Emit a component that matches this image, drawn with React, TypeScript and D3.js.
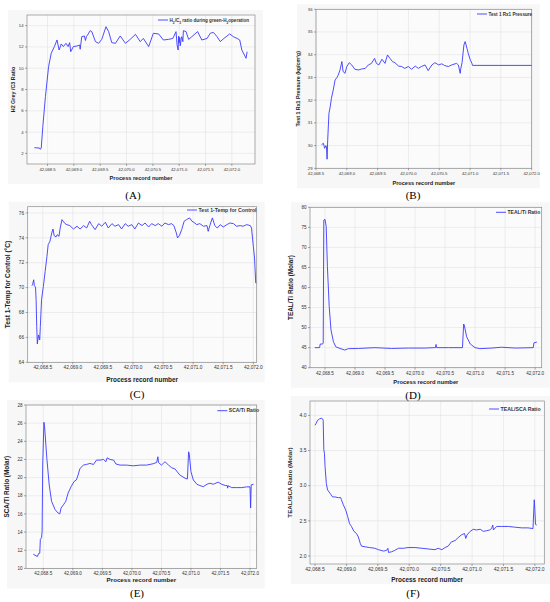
import React from 'react';
import * as d3 from 'd3';

type Pt = [number, number];

// Shared x ticks (process record number)
const X_TICKS = [42068.5, 42069.0, 42069.5, 42070.0, 42070.5, 42071.0, 42071.5, 42072.0];

// (A) H2/C3 ratio
const h2c3Ratio: Pt[] = [
  [42068.25, 2.53], [42068.35, 2.5], [42068.36, 2.38], [42068.38, 2.47], [42068.41, 4.51], [42068.46, 7.33],
  [42068.52, 10.15], [42068.57, 11.4], [42068.63, 12.03], [42068.68, 12.65], [42068.72, 11.71], [42068.76, 12.28],
  [42068.8, 12.03], [42068.85, 12.34], [42068.89, 12.03], [42068.92, 12.4], [42068.94, 11.55], [42068.99, 12.03],
  [42069.06, 12.09], [42069.11, 12.18], [42069.12, 11.78], [42069.15, 12.96], [42069.2, 13.03], [42069.22, 12.6],
  [42069.24, 13.0], [42069.26, 13.12], [42069.31, 13.53], [42069.34, 13.44], [42069.41, 12.5], [42069.47, 12.34],
  [42069.53, 12.71], [42069.61, 13.9], [42069.66, 13.44], [42069.72, 12.4], [42069.79, 12.34], [42069.88, 13.03],
  [42069.98, 12.34], [42070.07, 12.71], [42070.17, 13.18], [42070.26, 12.5], [42070.32, 12.8], [42070.42, 12.03],
  [42070.51, 13.28], [42070.61, 13.22], [42070.7, 12.65], [42070.8, 12.71], [42070.88, 12.8], [42070.94, 13.44],
  [42070.96, 12.2], [42070.98, 11.71], [42070.99, 13.0], [42071.0, 12.4], [42071.01, 12.9], [42071.02, 12.1],
  [42071.04, 12.8], [42071.05, 12.96], [42071.07, 12.5], [42071.08, 13.53], [42071.13, 13.44], [42071.18, 12.71],
  [42071.24, 12.96], [42071.35, 13.44], [42071.43, 12.65], [42071.53, 12.8], [42071.59, 13.28], [42071.65, 13.37],
  [42071.72, 12.96], [42071.78, 12.5], [42071.85, 12.8], [42071.96, 13.22], [42072.03, 12.96], [42072.1, 12.8],
  [42072.15, 12.65], [42072.19, 11.71], [42072.27, 10.93], [42072.29, 11.55],
];

// (B) Rx1 pressure
const rx1Pressure: Pt[] = [
  [42068.59, 30.04], [42068.62, 30.1], [42068.64, 29.88], [42068.66, 30.0], [42068.67, 29.95], [42068.68, 29.4],
  [42068.69, 30.25], [42068.71, 31.42], [42068.73, 31.7], [42068.75, 32.08], [42068.78, 32.45], [42068.81, 32.89],
  [42068.84, 33.0], [42068.86, 33.1], [42068.89, 33.33], [42068.92, 33.7], [42068.94, 33.26], [42068.97, 33.18],
  [42069.0, 33.48], [42069.04, 33.65], [42069.08, 33.55], [42069.13, 33.36], [42069.19, 33.33], [42069.24, 33.37],
  [42069.3, 33.4], [42069.35, 33.55], [42069.4, 33.62], [42069.45, 33.84], [42069.48, 33.62], [42069.52, 33.55],
  [42069.57, 33.8], [42069.62, 33.62], [42069.66, 33.99], [42069.7, 33.84], [42069.74, 33.7], [42069.78, 33.65],
  [42069.84, 33.5], [42069.89, 33.48], [42069.94, 33.4], [42070.0, 33.48], [42070.05, 33.36], [42070.11, 33.5],
  [42070.16, 33.4], [42070.21, 33.48], [42070.27, 33.55], [42070.32, 33.3], [42070.38, 33.55], [42070.43, 33.65],
  [42070.49, 33.55], [42070.54, 33.6], [42070.59, 33.52], [42070.65, 33.48], [42070.7, 33.55], [42070.78, 33.62],
  [42070.81, 33.55], [42070.84, 33.18], [42070.85, 33.4], [42070.87, 33.65], [42070.9, 34.43], [42070.92, 34.58],
  [42070.95, 34.28], [42070.97, 34.06], [42071.0, 33.8], [42071.03, 33.62], [42071.04, 33.53], [42072.0, 33.53],
];

// (C) Temp for control
const tempControl: Pt[] = [
  [42068.32, 70.15], [42068.33, 70.23], [42068.35, 70.63], [42068.36, 70.15], [42068.38, 70.04], [42068.39, 69.02],
  [42068.4, 66.87], [42068.41, 65.48], [42068.43, 66.2], [42068.45, 65.8], [42068.46, 66.87], [42068.48, 69.02],
  [42068.51, 70.09], [42068.54, 71.3], [42068.57, 72.51], [42068.59, 73.45], [42068.62, 73.72], [42068.65, 74.39],
  [42068.67, 74.71], [42068.69, 74.17], [42068.72, 74.07], [42068.74, 74.25], [42068.77, 74.12], [42068.79, 74.79],
  [42068.82, 75.46], [42068.84, 75.33], [42068.87, 75.14], [42068.9, 75.06], [42068.95, 74.98], [42069.01, 74.71],
  [42069.07, 74.93], [42069.12, 74.71], [42069.18, 74.98], [42069.23, 74.79], [42069.28, 75.33], [42069.31, 75.06],
  [42069.37, 74.66], [42069.43, 75.14], [42069.48, 74.93], [42069.54, 75.25], [42069.59, 74.79], [42069.65, 75.14],
  [42069.7, 74.93], [42069.76, 75.06], [42069.81, 74.71], [42069.87, 75.14], [42069.92, 74.93], [42069.98, 75.06],
  [42070.03, 74.71], [42070.09, 75.19], [42070.15, 74.98], [42070.2, 75.19], [42070.26, 74.87], [42070.31, 75.14],
  [42070.37, 74.98], [42070.42, 75.14], [42070.48, 74.93], [42070.53, 75.19], [42070.59, 75.06], [42070.64, 75.14],
  [42070.68, 74.98], [42070.72, 74.39], [42070.74, 73.99], [42070.77, 74.17], [42070.81, 74.66], [42070.85, 75.33],
  [42070.89, 75.46], [42070.94, 75.6], [42070.98, 75.33], [42071.01, 75.25], [42071.06, 75.06], [42071.11, 75.14],
  [42071.17, 74.93], [42071.23, 74.98], [42071.25, 74.52], [42071.29, 75.19], [42071.32, 75.6], [42071.36, 74.98],
  [42071.4, 74.79], [42071.45, 75.06], [42071.5, 74.87], [42071.56, 75.06], [42071.61, 75.19], [42071.67, 75.14],
  [42071.72, 74.93], [42071.78, 74.98], [42071.83, 74.93], [42071.89, 75.06], [42071.95, 74.98], [42071.97, 74.79],
  [42072.0, 73.32], [42072.02, 72.38], [42072.04, 70.36],
];

// (D) TEAL/Ti ratio
const tealTi: Pt[] = [
  [42068.33, 45.0], [42068.41, 45.0], [42068.42, 45.9], [42068.46, 45.9], [42068.47, 46.2], [42068.48, 76.8],
  [42068.5, 77.0], [42068.52, 75.2], [42068.54, 65.2], [42068.57, 55.2], [42068.6, 49.4], [42068.64, 46.5],
  [42068.68, 45.2], [42068.75, 44.8], [42068.83, 44.4], [42068.89, 44.75], [42069.06, 44.8], [42069.33, 45.0],
  [42069.61, 44.8], [42069.89, 44.9], [42070.17, 44.9], [42070.32, 45.0], [42070.34, 45.0], [42070.35, 45.8],
  [42070.36, 45.0], [42070.56, 45.0], [42070.79, 45.0], [42070.81, 50.9], [42070.82, 50.6], [42070.86, 47.7],
  [42070.92, 45.9], [42071.0, 45.0], [42071.08, 44.75], [42071.28, 44.9], [42071.44, 45.1], [42071.67, 44.9],
  [42071.97, 45.0], [42071.98, 46.2], [42072.03, 46.4],
];

// (E) SCA/Ti ratio
const scaTi: Pt[] = [
  [42068.33, 11.56], [42068.36, 11.45], [42068.4, 11.31], [42068.42, 11.64], [42068.44, 11.67], [42068.45, 13.2],
  [42068.47, 13.38], [42068.48, 14.1], [42068.49, 21.38], [42068.51, 26.1], [42068.52, 25.75], [42068.56, 22.1],
  [42068.6, 19.2], [42068.64, 17.38], [42068.7, 16.47], [42068.75, 16.1], [42068.78, 16.0], [42068.8, 16.65],
  [42068.84, 17.0], [42068.88, 17.38], [42068.92, 18.3], [42068.97, 19.0], [42069.02, 19.56], [42069.06, 19.75],
  [42069.09, 20.3], [42069.12, 21.0], [42069.18, 21.38], [42069.23, 21.45], [42069.29, 21.56], [42069.35, 21.45],
  [42069.4, 21.93], [42069.46, 21.93], [42069.52, 22.0], [42069.56, 21.75], [42069.58, 22.18], [42069.63, 22.0],
  [42069.69, 21.93], [42069.73, 21.5], [42069.8, 21.38], [42069.91, 21.38], [42070.02, 21.3], [42070.14, 21.38],
  [42070.25, 21.38], [42070.36, 21.53], [42070.42, 21.67], [42070.44, 22.3], [42070.45, 21.67], [42070.5, 21.38],
  [42070.56, 21.75], [42070.62, 21.38], [42070.67, 21.1], [42070.73, 20.95], [42070.81, 20.3], [42070.9, 19.93],
  [42070.94, 19.85], [42070.96, 22.84], [42070.97, 22.65], [42071.0, 20.65], [42071.04, 19.75], [42071.1, 19.27],
  [42071.15, 19.13], [42071.21, 19.0], [42071.27, 19.27], [42071.32, 19.38], [42071.38, 19.27], [42071.46, 19.5],
  [42071.52, 19.27], [42071.58, 19.13], [42071.615, 19.13], [42071.62, 18.84], [42071.63, 19.1], [42071.69, 18.9],
  [42071.77, 18.9], [42071.86, 18.9], [42071.94, 18.98], [42072.0, 18.98], [42072.01, 16.65], [42072.02, 19.2],
  [42072.06, 19.27],
];

// (F) TEAL/SCA ratio
const tealSca: Pt[] = [
  [42068.5, 3.86], [42068.52, 3.89], [42068.54, 3.93], [42068.57, 3.95], [42068.6, 3.96], [42068.62, 3.95],
  [42068.63, 3.93], [42068.64, 3.51], [42068.65, 3.46], [42068.66, 3.27], [42068.68, 3.03], [42068.7, 2.94],
  [42068.74, 2.89], [42068.78, 2.84], [42068.82, 2.84], [42068.87, 2.83], [42068.91, 2.83], [42068.92, 2.8],
  [42068.95, 2.73], [42068.99, 2.65], [42069.02, 2.56], [42069.05, 2.46], [42069.08, 2.42], [42069.12, 2.35],
  [42069.16, 2.32], [42069.19, 2.27], [42069.22, 2.18], [42069.24, 2.14], [42069.3, 2.13], [42069.37, 2.12],
  [42069.45, 2.11], [42069.51, 2.09], [42069.59, 2.07], [42069.64, 2.08], [42069.66, 2.11], [42069.67, 2.05],
  [42069.72, 2.06], [42069.77, 2.08], [42069.83, 2.11], [42069.91, 2.11], [42069.98, 2.12], [42070.09, 2.12],
  [42070.2, 2.11], [42070.3, 2.1], [42070.41, 2.09], [42070.46, 2.11], [42070.52, 2.09], [42070.57, 2.12],
  [42070.62, 2.14], [42070.67, 2.2], [42070.73, 2.22], [42070.79, 2.27], [42070.83, 2.3], [42070.88, 2.32],
  [42070.9, 2.25], [42070.92, 2.3], [42070.97, 2.35], [42071.02, 2.38], [42071.07, 2.37], [42071.13, 2.38],
  [42071.18, 2.35], [42071.23, 2.36], [42071.28, 2.37], [42071.31, 2.39], [42071.33, 2.44], [42071.34, 2.37],
  [42071.39, 2.42], [42071.47, 2.42], [42071.58, 2.42], [42071.68, 2.41], [42071.79, 2.4], [42071.89, 2.4],
  [42071.97, 2.39], [42071.99, 2.8], [42072.0, 2.65], [42072.01, 2.45], [42072.03, 2.44],
];

const Y_TICKS_A = [2, 4, 6, 8, 10, 12, 14];
const Y_TICKS_B = [29, 30, 31, 32, 33, 34, 35, 36];
const Y_TICKS_C = [64, 66, 68, 70, 72, 74, 76];
const Y_TICKS_D = [40, 45, 50, 55, 60, 65, 70, 75, 80];
const Y_TICKS_E = [10, 12, 14, 16, 18, 20, 22, 24, 26, 28];
const Y_TICKS_F = [2.0, 2.5, 3.0, 3.5, 4.0];

const CAPTIONS = ['(A)', '(B)', '(C)', '(D)', '(E)', '(F)'];

const LINE_COLOR = '#3a3aff';
const SANS = 'Liberation Sans, Arial, sans-serif';

interface PanelProps {
  l: number; r: number; t: number; b: number;
  xDomain: [number, number];
  yDomain: [number, number];
  yTicks: number[];
  yFmt: (v: number) => string;
  data: Pt[];
  legend: React.ReactNode;
  legendX: number; legendY: number; legendFs: number;
  yTitle: string; yTitleX: number; yTitleFs: number;
  xTitleY: number; xTitleFs: number;
  tickFs: number;
}

const xFmt = d3.format(',.1f');

function Panel(p: PanelProps) {
  const x = d3.scaleLinear().domain(p.xDomain).range([p.l, p.r]);
  const y = d3.scaleLinear().domain(p.yDomain).range([p.b, p.t]);
  const line = d3.line<Pt>().x((d) => x(d[0])).y((d) => y(d[1]));
  const cx = (p.l + p.r) / 2;
  const cy = (p.t + p.b) / 2;

  return (
    <g>
      <rect x={p.l - 19} y={p.t - 5} width={p.r - p.l + 27} height={p.b - p.t + 25} fill="#f7f7f7" />
      <rect x={p.l} y={p.t} width={p.r - p.l} height={p.b - p.t} fill="#fbfbfb" />
      {/* grid */}
      {X_TICKS.map((v) => (
        <line key={'gx' + v} x1={x(v)} x2={x(v)} y1={p.t} y2={p.b} stroke="#e3e3e3" strokeWidth={0.6} />
      ))}
      {p.yTicks.map((v) => (
        <line key={'gy' + v} x1={p.l} x2={p.r} y1={y(v)} y2={y(v)} stroke="#e3e3e3" strokeWidth={0.6} />
      ))}
      <rect x={p.l} y={p.t} width={p.r - p.l} height={p.b - p.t} fill="none" stroke="#8a8a8a" strokeWidth={0.7} />
      {/* y axis */}
      {p.yTicks.map((v) => (
        <g key={'ty' + v}>
          <line x1={p.l - 2} x2={p.l} y1={y(v)} y2={y(v)} stroke="#555" strokeWidth={0.5} />
          <text x={p.l - 3.5} y={y(v)} dy="0.35em" textAnchor="end" fontSize={p.tickFs} fill="#333" fontFamily={SANS}>
            {p.yFmt(v)}
          </text>
        </g>
      ))}
      {/* x axis */}
      {X_TICKS.map((v) => (
        <g key={'tx' + v}>
          <line x1={x(v)} x2={x(v)} y1={p.b} y2={p.b + 2} stroke="#555" strokeWidth={0.5} />
          <text x={x(v)} y={p.b + 3.5} dy="0.75em" textAnchor="middle" fontSize={p.tickFs} fill="#333" fontFamily={SANS}>
            {xFmt(v)}
          </text>
        </g>
      ))}
      <path d={line(p.data) || ''} fill="none" stroke={LINE_COLOR} strokeWidth={0.9} strokeLinejoin="round" />
      {/* legend */}
      <line x1={p.legendX} x2={p.legendX + 10} y1={p.legendY} y2={p.legendY} stroke={LINE_COLOR} strokeWidth={0.9} />
      <text x={p.legendX + 11.5} y={p.legendY} dy="0.35em" fontSize={p.legendFs} fontWeight="bold" fill="#333" fontFamily={SANS}>
        {p.legend}
      </text>
      {/* titles */}
      <text
        transform={`translate(${p.yTitleX},${cy}) rotate(-90)`}
        textAnchor="middle"
        fontSize={p.yTitleFs}
        fontWeight="bold"
        fill="#222"
        fontFamily={SANS}
      >
        {p.yTitle}
      </text>
      <text x={cx} y={p.xTitleY} dy="0.35em" textAnchor="middle" fontSize={p.xTitleFs} fontWeight="bold" fill="#222" fontFamily={SANS}>
        Process record number
      </text>
    </g>
  );
}

const sub = (s: string) => (
  <tspan baselineShift="sub" fontSize="70%">{s}</tspan>
);

// caption anchor positions, one per panel
const CAPTION_POS: [number, number][] = [[133, 195], [413, 195], [137, 394], [413, 395], [137, 593], [413, 593]];

export default function App() {
  const intFmt = (v: number) => String(v);
  const oneDec = d3.format('.1f');
  return (
    <svg width={550} height={602} style={{ position: 'absolute', left: 0, top: 0, background: '#fff' }}>
      <Panel
        l={27} r={255} t={15} b={164}
        xDomain={[42068.11, 42072.44]} yDomain={[1, 15]} yTicks={Y_TICKS_A} yFmt={intFmt}
        data={h2c3Ratio}
        legend={<>H{sub('2')}/C{sub('3')} ratio during green-H{sub('2')}operation</>}
        legendX={158} legendY={20} legendFs={4.6}
        yTitle="H2 Grey /C3 Ratio" yTitleX={15} yTitleFs={5.4}
        xTitleY={178} xTitleFs={5.6} tickFs={4.2}
      />
      <Panel
        l={316} r={531.7} t={9.3} b={168.3}
        xDomain={[42068.5, 42072.0]} yDomain={[29, 36]} yTicks={Y_TICKS_B} yFmt={intFmt}
        data={rx1Pressure}
        legend={<>Test 1 Rx1 Pressure</>}
        legendX={477} legendY={14} legendFs={4.6}
        yTitle="Test 1 Rx1 Pressure (kg/cm²g)" yTitleX={300} yTitleFs={5.3}
        xTitleY={182.7} xTitleFs={5.6} tickFs={4.2}
      />
      <Panel
        l={27.7} r={256.7} t={206.7} b={362.3}
        xDomain={[42068.25, 42072.056]} yDomain={[64, 76.5]} yTicks={Y_TICKS_C} yFmt={intFmt}
        data={tempControl}
        legend={<>Test 1-Temp for Control</>}
        legendX={187} legendY={210} legendFs={5.2}
        yTitle="Test 1-Temp for Control (°C)" yTitleX={10} yTitleFs={6.6}
        xTitleY={380} xTitleFs={6.4} tickFs={4.8}
      />
      <Panel
        l={310} r={541.7} t={207.3} b={367.7}
        xDomain={[42068.25, 42072.11]} yDomain={[40, 80]} yTicks={Y_TICKS_D} yFmt={intFmt}
        data={tealTi}
        legend={<>TEAL/Ti Ratio</>}
        legendX={496} legendY={212.3} legendFs={5}
        yTitle="TEAL/Ti Ratio (Molar)" yTitleX={293} yTitleFs={6.4}
        xTitleY={382.3} xTitleFs={5.8} tickFs={4.6}
      />
      <Panel
        l={26} r={256.7} t={405} b={568.4}
        xDomain={[42068.207, 42072.113]} yDomain={[10, 28]} yTicks={Y_TICKS_E} yFmt={intFmt}
        data={scaTi}
        legend={<>SCA/Ti Ratio</>}
        legendX={217.3} legendY={410.7} legendFs={5}
        yTitle="SCA/Ti Ratio (Molar)" yTitleX={9} yTitleFs={6.4}
        xTitleY={580.3} xTitleFs={6.2} tickFs={4.6}
      />
      <Panel
        l={310} r={544.3} t={401} b={564}
        xDomain={[42068.42, 42072.15]} yDomain={[1.886, 4.205]} yTicks={Y_TICKS_F} yFmt={oneDec}
        data={tealSca}
        legend={<>TEAL/SCA Ratio</>}
        legendX={489} legendY={409} legendFs={5.2}
        yTitle="TEAL/SCA Ratio (Molar)" yTitleX={292} yTitleFs={6.2}
        xTitleY={580} xTitleFs={6.4} tickFs={5}
      />
      {CAPTIONS.map((c, i) => (
        <text
          key={c}
          x={CAPTION_POS[i][0]}
          y={CAPTION_POS[i][1]}
          dy="0.35em"
          textAnchor="middle"
          fontSize={11}
          fill="#000"
          fontFamily="Liberation Serif, Times New Roman, serif"
        >
          {c}
        </text>
      ))}
    </svg>
  );
}
